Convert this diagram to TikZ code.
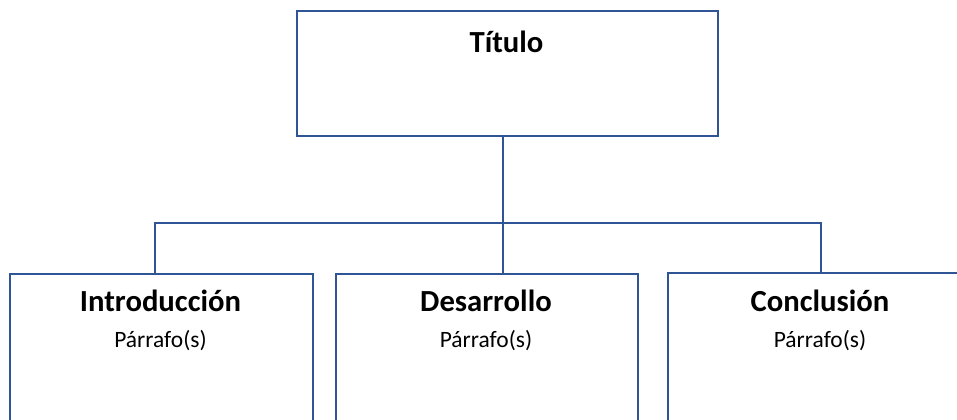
\documentclass[tikz,border=0pt]{standalone}
\usepackage{fontspec}
\setmainfont{Carlito}
\definecolor{azul}{HTML}{2F5597}
\begin{document}
\begin{tikzpicture}[x=0.75pt, y=-0.75pt,
    caja/.style={draw=azul, line width=1.3pt, rectangle, anchor=north west, inner sep=0pt},
    linea/.style={azul, line width=1.3pt},
    titulo/.style={anchor=base, font=\fontsize{23}{27}\selectfont\bfseries},
    parrafo/.style={anchor=base, font=\fontsize{17.6}{20}\selectfont}]
  \useasboundingbox[fill=white] (0,0) rectangle (957,420);
  \clip (0,0) rectangle (957,420);
  % cajas
  \node[caja, minimum width=315.75pt, minimum height=93.75pt] (tit) at (296,10) {};
  \node[caja, minimum width=227.25pt, minimum height=150pt] (intro) at (9,273) {};
  \node[caja, minimum width=226.5pt, minimum height=150pt] (desa) at (335,273) {};
  \node[caja, minimum width=229.5pt, minimum height=150pt] (concl) at (667,272) {};
  % textos
  \node[titulo] (tTit) at (506.5,53) {Título};
  \node[titulo] (tIntro) at (160.5,312) {Introducción};
  \node[parrafo] (pIntro) at (160.5,348) {Párrafo(s)};
  \node[titulo] (tDesa) at (486,312) {Desarrollo};
  \node[parrafo] (pDesa) at (486,348) {Párrafo(s)};
  \node[titulo] (tConcl) at (820,312) {Conclusión};
  \node[parrafo] (pConcl) at (820,348) {Párrafo(s)};
  % conectores
  \coordinate (ramaI) at (155,223);
  \coordinate (ramaD) at (503,223);
  \coordinate (ramaC) at (821,223);
  \draw[linea] (tit.south -| ramaD) -- (ramaD |- desa.north);
  \draw[linea] (ramaI |- intro.north) -- (ramaI) -- (ramaC) -- (ramaC |- concl.north);
\end{tikzpicture}
\end{document}
